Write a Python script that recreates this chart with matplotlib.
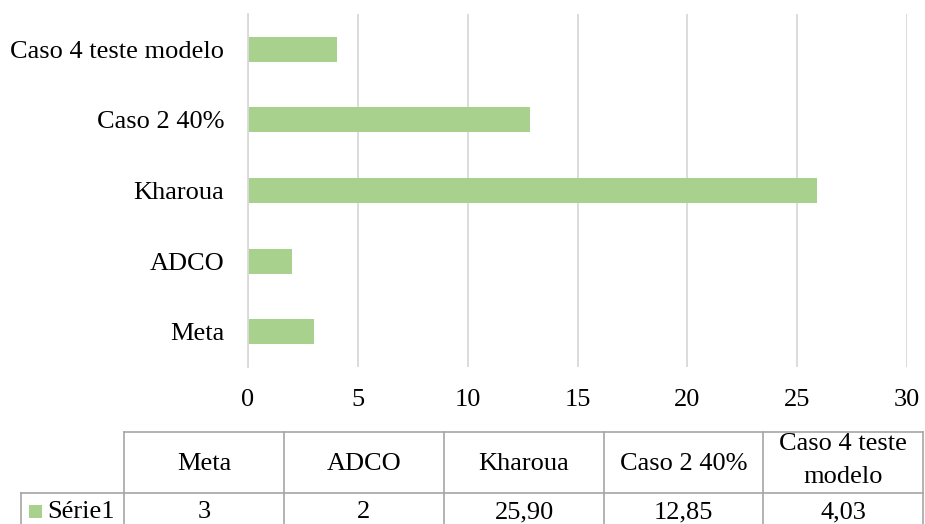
import matplotlib
matplotlib.use("Agg")
import matplotlib.pyplot as plt
from matplotlib.patches import Rectangle

# Data
categories = ["Meta", "ADCO", "Kharoua", "Caso 2 40%", "Caso 4 teste modelo"]
table_headers = ["Meta", "ADCO", "Kharoua", "Caso 2 40%", "Caso 4 teste\nmodelo"]
values = [3, 2, 25.90, 12.85, 4.03]
series_name = "Série1"
x_ticks = [0, 5, 10, 15, 20, 25, 30]

BAR_COLOR = "#A9D18E"
GRID_COLOR = "#D9D9D9"
BORDER_COLOR = "#A6A6A6"
FONT = "Liberation Serif"
FS = 19

plt.rcParams["font.family"] = [FONT, "DejaVu Serif"]

W, H = 925, 524
fig = plt.figure(figsize=(W / 100, H / 100), dpi=100)
fig.patch.set_facecolor("white")

# Bar chart area
left, right, top, bottom = 248, 907, 14, 367
ax = fig.add_axes([left / W, (H - bottom) / H, (right - left) / W, (bottom - top) / H])
ypos = list(range(len(categories)))
ax.barh(ypos, values, height=0.355, color=BAR_COLOR, zorder=3)
ax.set_xlim(0, 30)
ax.set_ylim(-0.5, len(categories) - 0.5)
ax.set_xticks(x_ticks)
ax.set_xticklabels([str(t) for t in x_ticks], fontsize=FS)
ax.set_yticks(ypos)
ax.set_yticklabels(categories, fontsize=FS)
ax.tick_params(axis="both", length=0)
ax.tick_params(axis="x", pad=16)
ax.tick_params(axis="y", pad=17)
ax.xaxis.grid(True, color=GRID_COLOR, linewidth=1.3, zorder=0)
for side in ["top", "right", "bottom"]:
    ax.spines[side].set_visible(False)
ax.spines["left"].set_color(GRID_COLOR)
ax.spines["left"].set_linewidth(1.3)
ax.spines["left"].set_zorder(4)

# Data table below the chart, laid out in pixel units
tab = fig.add_axes([0, 0, 1, 1])
tab.set_xlim(0, W)
tab.set_ylim(H, 0)
tab.axis("off")

col_edges = [124, 284, 444, 604, 763, 923]
row_top, row_mid, row_bot = 432, 493, 530
label_left = 21
lw = 1.2

tab.plot([col_edges[0], col_edges[-1]], [row_top, row_top], color=BORDER_COLOR, lw=lw)
tab.plot([label_left, col_edges[-1]], [row_mid, row_mid], color=BORDER_COLOR, lw=lw)
for xe in col_edges:
    tab.plot([xe, xe], [row_top, row_bot], color=BORDER_COLOR, lw=lw)
tab.plot([label_left, label_left], [row_mid, row_bot], color=BORDER_COLOR, lw=lw)


def fmt(v):
    if float(v).is_integer():
        return str(int(v))
    return f"{v:.2f}".replace(".", ",")


for i, (hdr, v) in enumerate(zip(table_headers, values)):
    cx = (col_edges[i] + col_edges[i + 1]) / 2
    cy = (row_top + row_mid) / 2 + (1 if "\n" not in hdr else -2)
    tab.text(cx, cy, hdr, ha="center", va="center",
             fontsize=FS, linespacing=1.6)
    tab.text(cx, 512, fmt(v), ha="center", va="center", fontsize=FS)

# Legend key and series name
tab.add_patch(Rectangle((29, 505), 13, 13, facecolor=BAR_COLOR, edgecolor="none"))
tab.text(47, 512, series_name, ha="left", va="center", fontsize=FS)

fig.savefig("out.png", dpi=100, facecolor="white")
